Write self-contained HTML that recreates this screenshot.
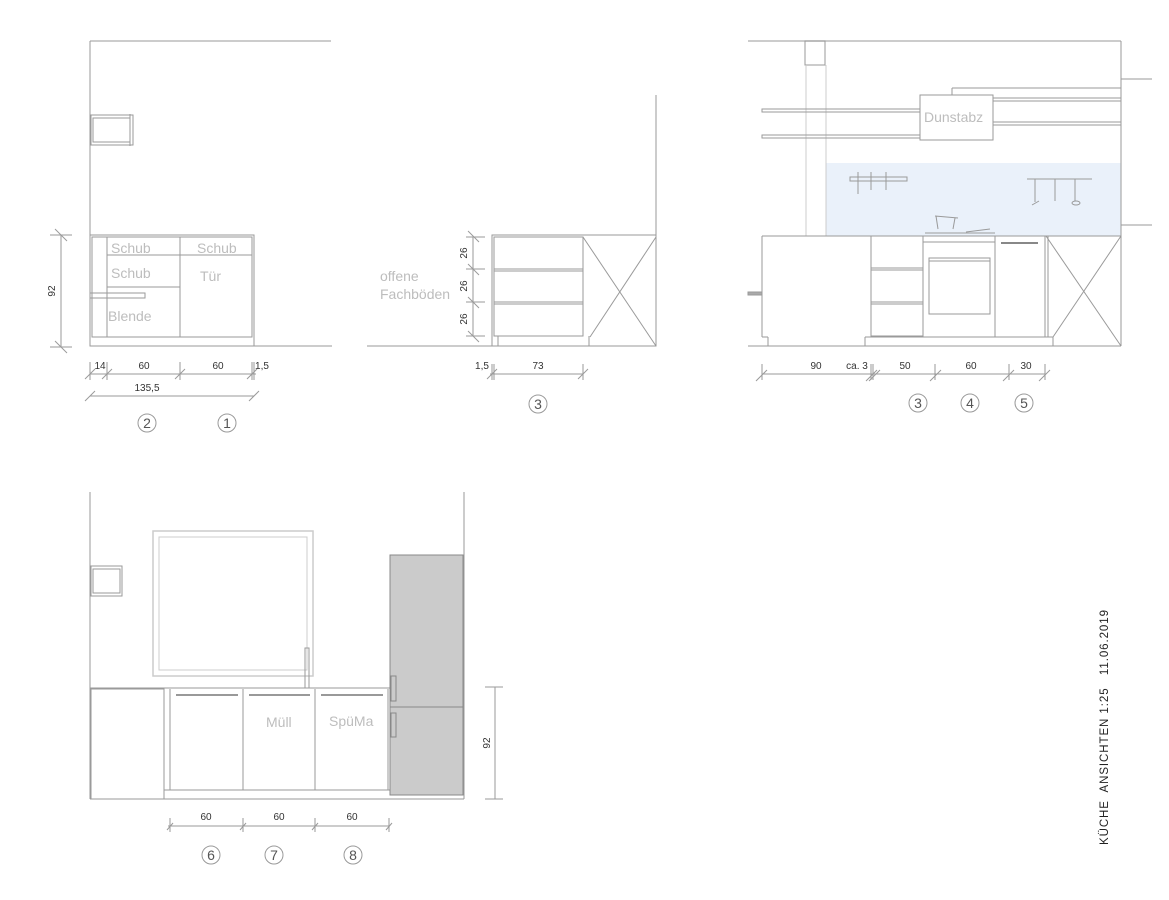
<!DOCTYPE html>
<html><head><meta charset="utf-8"><style>
html,body{margin:0;padding:0;background:#fff}
svg{display:block}
text{font-family:"Liberation Sans",sans-serif;white-space:pre}
</style></head><body>
<svg width="1169" height="900" viewBox="0 0 1169 900" xmlns="http://www.w3.org/2000/svg">
<g fill="none" stroke="#9a9a9a" stroke-width="1">
<!-- Panel 1 -->
<line x1="90" y1="41" x2="331" y2="41" stroke="#bbb" stroke-width="1.5"/>
<line x1="90" y1="41" x2="90" y2="346"/>
<rect x="91" y="115" width="42" height="30"/><rect x="93" y="118" width="37" height="24"/>
<line x1="130" y1="114" x2="130" y2="146"/>
<line x1="90" y1="346" x2="332" y2="346"/>
<rect x="90" y="235" width="164" height="111"/>
<rect x="92" y="237" width="160" height="100"/>
<line x1="107" y1="237" x2="107" y2="337"/><line x1="180" y1="237" x2="180" y2="337"/>
<line x1="107" y1="255" x2="252" y2="255"/><line x1="107" y1="287" x2="180" y2="287"/>
<rect x="90" y="293" width="55" height="5"/>
<line x1="61" y1="235" x2="61" y2="347"/>
<line x1="50" y1="235" x2="72" y2="235"/><line x1="50" y1="347" x2="72" y2="347"/>
<line x1="55" y1="229" x2="67" y2="241"/><line x1="55" y1="341" x2="67" y2="353"/>
<line x1="90" y1="374" x2="256" y2="374"/>
<line x1="90" y1="362" x2="90" y2="380"/><line x1="107" y1="362" x2="107" y2="380"/><line x1="180" y1="362" x2="180" y2="380"/><line x1="252" y1="362" x2="252" y2="380"/><line x1="254" y1="362" x2="254" y2="380"/>
<line x1="85" y1="379" x2="95" y2="369"/><line x1="102" y1="379" x2="112" y2="369"/><line x1="175" y1="379" x2="185" y2="369"/><line x1="247" y1="379" x2="257" y2="369"/>
<line x1="90" y1="396" x2="254" y2="396"/>
<line x1="85" y1="401" x2="95" y2="391"/><line x1="249" y1="401" x2="259" y2="391"/>
<circle cx="147" cy="423" r="9"/><circle cx="227" cy="423" r="9"/>
<!-- Panel 2 -->
<line x1="656" y1="95" x2="656" y2="346"/>
<line x1="367" y1="346" x2="656" y2="346"/>
<rect x="492" y="235" width="164" height="111"/>
<rect x="494" y="237" width="89" height="99"/>
<line x1="494" y1="269" x2="583" y2="269"/><line x1="494" y1="271" x2="583" y2="271"/>
<line x1="494" y1="302" x2="583" y2="302"/><line x1="494" y1="304" x2="583" y2="304"/>
<line x1="583" y1="237" x2="656" y2="346"/><line x1="656" y1="237" x2="590" y2="337"/>
<line x1="498" y1="336" x2="498" y2="346"/><line x1="589" y1="336" x2="589" y2="346"/>
<line x1="473" y1="237" x2="473" y2="336"/>
<line x1="466" y1="237" x2="485" y2="237"/><line x1="466" y1="269" x2="485" y2="269"/><line x1="466" y1="302" x2="485" y2="302"/><line x1="466" y1="336" x2="485" y2="336"/>
<line x1="468" y1="231" x2="479" y2="242"/><line x1="468" y1="264" x2="479" y2="275"/><line x1="468" y1="297" x2="479" y2="308"/><line x1="468" y1="331" x2="479" y2="342"/>
<line x1="490" y1="374" x2="583" y2="374"/>
<line x1="492" y1="364" x2="492" y2="380"/><line x1="494" y1="364" x2="494" y2="380"/><line x1="583" y1="364" x2="583" y2="380"/>
<line x1="487" y1="379" x2="497" y2="369"/><line x1="578" y1="379" x2="588" y2="369"/>
<circle cx="538" cy="404" r="9"/>
<!-- Panel 3 -->
<rect x="826" y="163" width="295" height="73" fill="#eaf1fa" stroke="none"/>
<line x1="748" y1="41" x2="1121" y2="41" stroke="#bbb" stroke-width="1.5"/>
<line x1="1121" y1="41" x2="1121" y2="346"/>
<rect x="805" y="41" width="20" height="24"/>
<line x1="806" y1="65" x2="806" y2="236" stroke="#ccc"/><line x1="826" y1="65" x2="826" y2="236" stroke="#ccc"/>
<rect x="762" y="109" width="158" height="3"/><rect x="762" y="135" width="158" height="3"/>
<rect x="920" y="95" width="73" height="45"/>
<line x1="993" y1="98" x2="1121" y2="98"/><line x1="993" y1="101" x2="1121" y2="101"/>
<line x1="993" y1="122" x2="1121" y2="122"/><line x1="993" y1="125" x2="1121" y2="125"/>
<line x1="952" y1="88" x2="1121" y2="88"/><line x1="952" y1="88" x2="952" y2="95"/>
<line x1="1121" y1="79" x2="1152" y2="79"/><line x1="1121" y1="225" x2="1152" y2="225"/>
<rect x="850" y="177" width="57" height="4"/>
<line x1="858" y1="172" x2="858" y2="194"/><line x1="871" y1="172" x2="871" y2="190"/><line x1="886" y1="172" x2="886" y2="190"/>
<line x1="1027" y1="179" x2="1092" y2="179"/>
<line x1="1035" y1="179" x2="1035" y2="202"/><line x1="1032" y1="205" x2="1039" y2="201"/>
<line x1="1055" y1="179" x2="1055" y2="201"/><line x1="1075" y1="179" x2="1075" y2="201"/><ellipse cx="1076" cy="203" rx="4" ry="2"/>
<line x1="762" y1="236" x2="1121" y2="236"/>
<line x1="748" y1="346" x2="1121" y2="346"/>
<line x1="762" y1="236" x2="762" y2="337"/><line x1="762" y1="337" x2="768" y2="337"/><line x1="768" y1="337" x2="768" y2="346"/>
<rect x="748" y="292" width="14" height="3" fill="#aaa"/>
<rect x="871" y="236" width="52" height="100"/>
<line x1="871" y1="268" x2="923" y2="268"/><line x1="871" y1="270" x2="923" y2="270"/>
<line x1="871" y1="302" x2="923" y2="302"/><line x1="871" y1="304" x2="923" y2="304"/>
<line x1="865" y1="337" x2="1053" y2="337"/><line x1="865" y1="337" x2="865" y2="346"/><line x1="1053" y1="337" x2="1053" y2="346"/>
<rect x="923" y="236" width="72" height="101"/><line x1="923" y1="242" x2="995" y2="242"/>
<rect x="929" y="258" width="61" height="56"/><line x1="929" y1="261" x2="990" y2="261"/>
<rect x="995" y="236" width="50" height="101"/>
<line x1="1001" y1="243" x2="1038" y2="243" stroke="#888" stroke-width="2"/>
<line x1="1048" y1="236" x2="1048" y2="337"/>
<line x1="1046" y1="236" x2="1121" y2="346"/><line x1="1121" y1="236" x2="1053" y2="337"/>
<path d="M935 216 L958 218 M936 216 L938 229 M955 218 L953 229 M925 233 L995 233 M966 232 L990 229"/>
<line x1="762" y1="374" x2="1045" y2="374"/>
<line x1="762" y1="364" x2="762" y2="380"/><line x1="871" y1="364" x2="871" y2="380"/><line x1="873" y1="364" x2="873" y2="380"/><line x1="935" y1="364" x2="935" y2="380"/><line x1="1009" y1="364" x2="1009" y2="380"/><line x1="1045" y1="364" x2="1045" y2="380"/>
<line x1="756" y1="381" x2="767" y2="370"/><line x1="866" y1="381" x2="877" y2="370"/><line x1="869" y1="381" x2="880" y2="370"/><line x1="930" y1="381" x2="941" y2="370"/><line x1="1003" y1="381" x2="1014" y2="370"/><line x1="1039" y1="381" x2="1050" y2="370"/>
<circle cx="918" cy="403" r="9"/><circle cx="970" cy="403" r="9"/><circle cx="1024" cy="403" r="9"/>
<!-- Panel 4 -->
<line x1="90" y1="492" x2="90" y2="799"/><line x1="464" y1="492" x2="464" y2="799"/>
<rect x="153" y="531" width="160" height="145" stroke="#ccc" stroke-width="1.5"/>
<rect x="159" y="537" width="148" height="133" stroke="#ccc"/>
<rect x="91" y="566" width="31" height="30"/><rect x="93" y="569" width="27" height="24"/>
<line x1="90" y1="688" x2="390" y2="688"/>
<rect x="91" y="689" width="73" height="110"/>
<line x1="164" y1="790" x2="390" y2="790"/>
<line x1="170" y1="689" x2="170" y2="790"/><line x1="243" y1="689" x2="243" y2="790"/><line x1="315" y1="689" x2="315" y2="790"/><line x1="388" y1="689" x2="388" y2="790"/>
<line x1="176" y1="695" x2="238" y2="695" stroke="#999" stroke-width="2"/><line x1="249" y1="695" x2="310" y2="695" stroke="#999" stroke-width="2"/><line x1="321" y1="695" x2="383" y2="695" stroke="#999" stroke-width="2"/>
<rect x="305" y="648" width="4" height="40"/>
<line x1="90" y1="799" x2="464" y2="799"/>
<rect x="390" y="555" width="73" height="240" fill="#cbcbcb" stroke="#888"/>
<line x1="390" y1="707" x2="463" y2="707" stroke="#888"/>
<rect x="391" y="676" width="5" height="25" stroke="#888"/><rect x="391" y="713" width="5" height="24" stroke="#888"/>
<line x1="495" y1="687" x2="495" y2="799"/>
<line x1="485" y1="687" x2="503" y2="687"/><line x1="485" y1="799" x2="503" y2="799"/>
<line x1="168" y1="826" x2="390" y2="826"/>
<line x1="170" y1="818" x2="170" y2="832"/><line x1="243" y1="818" x2="243" y2="832"/><line x1="315" y1="818" x2="315" y2="832"/><line x1="389" y1="818" x2="389" y2="832"/>
<line x1="167" y1="830" x2="173" y2="823"/><line x1="240" y1="830" x2="246" y2="823"/><line x1="312" y1="830" x2="318" y2="823"/><line x1="386" y1="830" x2="392" y2="823"/>
<circle cx="211" cy="855" r="9"/><circle cx="274" cy="855" r="9"/><circle cx="353" cy="855" r="9"/>
</g>
<g fill="#bdbdbd" font-size="14">
<text x="111" y="253">Schub</text><text x="111" y="278">Schub</text><text x="108" y="321">Blende</text>
<text x="197" y="253">Schub</text><text x="200" y="281">Tür</text>
<text x="380" y="281">offene</text><text x="380" y="299">Fachböden</text>
<text x="924" y="122">Dunstabz</text>
<text x="266" y="727">Müll</text><text x="329" y="726">SpüMa</text>
</g>
<g fill="#333" font-size="10" text-anchor="middle">
<text x="100" y="369">14</text><text x="144" y="369">60</text><text x="218" y="369">60</text><text x="262" y="369">1,5</text>
<text x="147" y="391">135,5</text>
<text transform="translate(55,291) rotate(-90)">92</text>
<text transform="translate(467,253) rotate(-90)">26</text><text transform="translate(467,286) rotate(-90)">26</text><text transform="translate(467,319) rotate(-90)">26</text>
<text x="482" y="369">1,5</text><text x="538" y="369">73</text>
<text x="816" y="369">90</text><text x="857" y="369">ca. 3</text><text x="905" y="369">50</text><text x="971" y="369">60</text><text x="1026" y="369">30</text>
<text transform="translate(490,743) rotate(-90)">92</text>
<text x="206" y="820">60</text><text x="279" y="820">60</text><text x="352" y="820">60</text>
</g>
<g fill="#555" font-size="14" text-anchor="middle">
<text x="147" y="428">2</text><text x="227" y="428">1</text><text x="538" y="409">3</text>
<text x="918" y="408">3</text><text x="970" y="408">4</text><text x="1024" y="408">5</text>
<text x="211" y="860">6</text><text x="274" y="860">7</text><text x="353" y="860">8</text>
</g>
<text transform="translate(1108,845) rotate(-90)" font-size="11.5" fill="#222" textLength="235" lengthAdjust="spacing">KÜCHE  ANSICHTEN 1:25   11.06.2019</text>
</svg>
</body></html>
